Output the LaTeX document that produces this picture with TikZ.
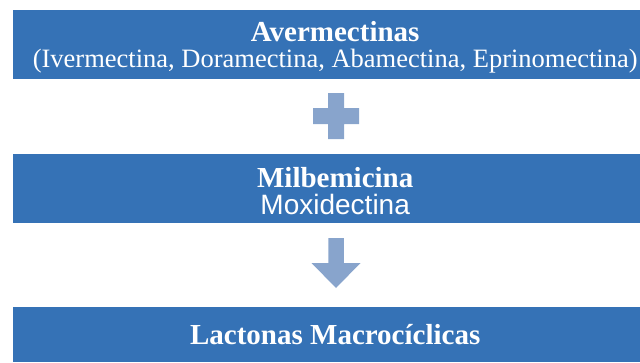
\documentclass[tikz,border=0pt]{standalone}
\usepackage{fontspec}
\setmainfont{Liberation Serif}
\newfontfamily\boxsans{Liberation Sans}
\definecolor{boxblue}{RGB}{53,114,182}
\definecolor{signblue}{RGB}{136,164,204}
\tikzset{
  bluebox/.style={fill=boxblue, draw=none, anchor=north west,
    minimum width=644pt, inner sep=0pt},
  boxtext/.style={text=white, align=center, inner sep=0pt},
  sign/.style={fill=signblue, draw=none},
}
\begin{document}
\begin{tikzpicture}[x=1pt,y=-1pt]
\useasboundingbox (0,0) rectangle (640,362);
\node[bluebox, minimum height=69pt] (b1) at (13,10) {};
\node[boxtext, font=\fontsize{26.5}{26}\selectfont] (t1) at ([yshift=-3pt]b1.center)
  {{\fontsize{29}{26}\selectfont\bfseries Avermectinas}\\
   (Ivermectina, Doramectina, Abamectina, Eprinomectina)};
\node[bluebox, minimum height=69pt] (b2) at (13,154) {};
\node[boxtext, font=\fontsize{28}{27}\selectfont] (t2) at ([yshift=-2pt]b2.center)
  {{\fontsize{29}{27}\selectfont\bfseries Milbemicina}\\
   {\boxsans Moxidectina}};
\node[bluebox, minimum height=55pt] (b3) at (13,307) {};
\node[boxtext, font=\fontsize{29}{30}\selectfont\bfseries] (t3) at (b3.center)
  {Lactonas Macrocíclicas};
% plus sign between b1 and b2
\coordinate (pc) at (336,116);
\fill[sign] ([xshift=-8pt,yshift=23pt]pc) -- ([xshift=8pt,yshift=23pt]pc)
  -- ([xshift=8pt,yshift=8pt]pc) -- ([xshift=23pt,yshift=8pt]pc)
  -- ([xshift=23pt,yshift=-8pt]pc) -- ([xshift=8pt,yshift=-8pt]pc)
  -- ([xshift=8pt,yshift=-23pt]pc) -- ([xshift=-8pt,yshift=-23pt]pc)
  -- ([xshift=-8pt,yshift=-8pt]pc) -- ([xshift=-23pt,yshift=-8pt]pc)
  -- ([xshift=-23pt,yshift=8pt]pc) -- ([xshift=-8pt,yshift=8pt]pc) -- cycle;
% down arrow between b2 and b3
\coordinate (at) at (336,238);
\fill[sign] ([xshift=-7.75pt]at) -- ([xshift=7.75pt]at)
  -- ([xshift=7.75pt,yshift=-25pt]at) -- ([xshift=24.5pt,yshift=-25pt]at)
  -- ([yshift=-50pt]at) -- ([xshift=-24.5pt,yshift=-25pt]at)
  -- ([xshift=-7.75pt,yshift=-25pt]at) -- cycle;
\end{tikzpicture}
\end{document}
